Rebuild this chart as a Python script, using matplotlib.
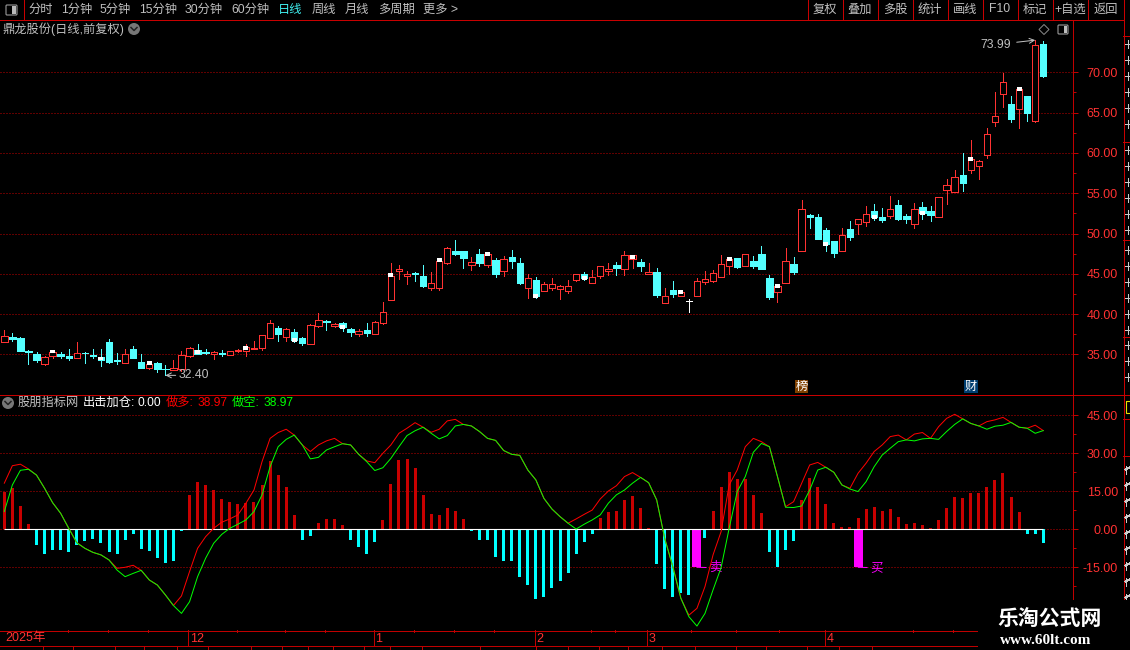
import matplotlib
matplotlib.use('Agg')
import matplotlib.pyplot as plt
from matplotlib.patches import Circle, Rectangle, FancyBboxPatch, Polygon
from matplotlib.lines import Line2D
from matplotlib.transforms import Affine2D
import numpy as np

plt.rcParams['font.family'] = ['Liberation Sans', 'Noto Sans CJK SC']

opens = [36.50,37.16,37.04,35.46,35.05,33.85,34.76,35.09,34.80,34.60,35.22,34.97,34.64,36.54,34.31,33.98,35.67,34.06,33.36,33.93,
         33.23,33.11,33.23,34.76,35.51,35.30,35.01,35.18,34.97,35.38,35.46,35.67,35.83,37.07,38.27,37.20,37.78,37.03,36.33,38.56,
         39.10,38.52,38.85,38.15,37.57,38.02,37.53,38.89,41.79,45.38,44.76,45.05,44.72,43.27,43.27,46.38,47.82,47.82,46.13,47.45,
         46.09,46.71,45.38,47.08,46.34,43.27,44.23,42.86,43.23,43.07,42.90,44.27,44.97,43.90,44.76,45.34,46.09,45.63,46.83,46.46,
         44.97,45.22,41.41,42.99,42.28,41.64,42.28,44.02,44.14,44.64,46.00,46.96,46.00,46.59,47.45,44.48,42.78,43.90,46.21,47.87,
         52.29,52.05,50.43,49.07,47.87,50.56,51.22,51.47,52.79,52.05,52.17,53.53,52.17,51.22,53.29,52.79,52.09,55.44,55.19,57.26,
         57.92,58.41,59.74,63.87,67.27,66.02,65.40,67.06,63.92,73.51]
closes = [37.24,36.95,35.46,35.34,34.35,34.64,35.26,34.84,34.55,35.13,35.13,34.84,34.27,34.10,34.18,35.01,34.60,33.36,33.77,33.19,
          33.15,33.27,34.89,35.75,35.09,35.18,35.26,35.09,35.38,35.55,35.96,35.79,37.36,38.85,37.53,38.11,36.78,36.41,38.60,39.22,
          39.02,38.73,38.40,37.78,37.86,37.65,38.98,40.22,44.76,45.59,44.97,44.93,43.48,43.81,46.62,48.16,47.45,46.96,46.42,46.34,
          47.45,44.97,46.79,46.58,43.85,44.43,42.24,43.69,43.69,43.44,43.44,44.93,44.47,44.56,45.92,45.55,45.72,47.29,47.29,45.96,
          45.22,42.38,42.20,42.49,42.74,41.64,44.10,44.31,45.05,46.17,46.79,45.84,47.41,45.97,45.59,42.12,43.44,46.59,45.22,53.00,
          52.05,49.32,48.69,47.58,49.81,49.56,51.76,52.38,52.05,51.67,53.00,51.80,51.80,53.00,52.54,52.29,54.49,55.97,56.97,56.26,
          59.20,58.95,62.30,64.62,68.75,64.25,67.89,65.00,73.34,69.54]
highs = [38.03,37.62,37.16,35.55,35.30,34.80,35.50,35.30,35.67,36.54,35.26,35.67,35.67,36.91,35.13,35.67,36.00,35.05,34.22,34.06,
         33.64,34.31,35.42,35.92,36.29,35.67,35.42,35.51,35.46,35.63,36.25,36.66,37.40,39.27,38.52,38.27,38.15,37.16,38.77,40.13,
         39.27,38.89,39.02,38.27,38.15,38.89,39.14,41.50,46.34,46.09,45.30,45.18,46.09,45.22,46.96,48.32,49.19,47.82,47.08,48.07,
         47.70,46.96,47.20,47.95,46.96,44.97,44.60,43.98,44.47,43.56,44.23,44.93,45.22,45.47,45.92,46.34,46.46,47.82,47.29,46.83,
         46.34,45.72,43.23,44.10,42.99,41.87,44.47,45.34,45.47,47.33,47.08,46.96,47.41,47.21,48.45,44.85,43.73,48.20,47.08,54.15,
         52.42,52.42,50.68,49.07,50.68,51.55,51.76,53.41,53.66,53.16,54.65,54.15,52.42,53.78,53.91,53.41,54.49,56.72,57.84,59.99,
         61.60,59.12,63.09,67.51,69.91,67.06,68.13,67.06,73.99,73.90]
lows = [36.50,36.71,35.46,33.85,34.10,33.69,34.60,34.60,34.35,34.60,33.98,34.60,33.60,33.98,33.85,33.98,34.60,33.36,33.19,32.86,
        32.40,33.11,32.98,34.64,35.09,35.01,34.43,34.76,34.93,35.26,34.84,35.67,35.54,37.07,36.66,36.66,36.54,36.16,36.33,38.40,
        38.02,38.40,37.90,37.28,37.28,37.28,37.53,38.77,41.79,44.35,43.73,44.10,43.36,43.03,43.03,46.21,47.33,45.72,45.47,46.00,
        45.84,44.60,44.72,45.72,43.73,41.99,41.99,42.86,42.99,41.87,42.61,44.14,44.23,43.85,44.47,44.85,44.85,44.85,45.72,45.34,
        44.97,42.14,41.41,42.14,42.28,40.26,42.28,43.73,43.98,44.64,44.97,45.72,46.00,45.72,45.59,41.87,41.50,43.90,44.97,47.87,
        50.68,49.32,47.83,47.08,47.87,49.19,49.94,50.93,51.67,51.42,51.92,51.67,51.30,50.68,51.80,51.55,52.09,53.66,55.19,55.27,
        57.50,56.76,59.37,63.38,65.73,63.87,63.13,64.00,63.79,69.46]

# white marks sitting on every sixth candle
mark_idx = [6,12,18,24,30,36,42,48,54,60,66,72,78,84,90,96,102,108,114,120,126]
mark_top = [35.51,34.64,34.14,35.54,36.00,37.03,38.65,45.09,46.96,47.70,42.49,44.72,47.29,42.99,47.08,43.73,48.94,52.29,52.79,59.49,68.13]
mark_bot = [35.13,34.27,33.73,35.05,35.55,36.54,38.15,44.64,46.50,47.25,41.99,44.23,46.83,42.49,46.59,43.24,48.45,51.80,52.29,58.99,67.68]

hist = [14.9,16.3,9.2,2.1,-6.2,-9.6,-8.2,-8.2,-8.8,-6.2,-4.6,-3.8,-5.4,-8.9,-9.7,-4.2,-1.8,-7.8,-8.6,-11.3,
        -13.3,-12.5,-0.5,13.6,18.7,17.5,15.5,12.0,10.8,10.0,10.4,10.8,17.5,27.0,21.4,16.7,5.7,-4.2,-2.6,2.5,
        4.1,4.1,1.7,-4.2,-7.0,-9.7,-5.0,3.7,17.9,27.4,27.8,24.2,13.6,6.1,5.7,8.4,7.2,4.1,-0.6,-4.2,
        -4.2,-10.9,-12.5,-12.5,-18.8,-22.0,-27.5,-26.7,-23.2,-20.4,-17.2,-9.7,-5.0,-1.8,4.5,6.8,7.2,11.6,13.2,8.4,
        0.5,-13.7,-23.6,-26.7,-25.1,-25.9,0.0,-3.4,7.2,16.7,22.6,19.9,19.9,13.6,6.4,-8.9,-14.9,-8.2,-4.6,11.6,
        20.3,16.7,10.0,2.5,0.9,0.9,4.5,8.0,8.8,7.2,8.0,4.9,2.1,2.5,1.7,0.5,3.7,8.4,12.8,12.4,
        14.3,14.3,16.7,19.5,22.2,12.8,6.8,-1.8,-1.8,-5.4]

zuokong = [7.0,17.5,23.3,23.7,21.4,16.2,10.5,6.3,0.4,-5.3,-7.5,-9.1,-10.1,-12.1,-16.1,-18.7,-17.4,-16.2,-20.0,-22.0,
           -25.9,-30.1,-33.2,-28.6,-18.7,-11.4,-5.5,-2.0,0.4,2.0,3.7,7.0,13.6,24.7,32.6,35.5,37.2,33.3,27.8,28.4,
           31.3,32.6,33.8,33.3,29.6,26.7,23.2,24.3,28.0,32.6,37.0,38.9,40.3,37.9,35.7,37.0,40.8,41.4,40.8,38.6,
           35.9,35.1,31.1,29.6,29.2,23.4,19.5,12.2,8.0,5.0,2.4,0.1,2.0,3.7,5.7,10.3,13.6,15.5,18.2,20.5,
           18.4,11.6,-3.6,-14.7,-27.2,-34.5,-38.2,-33.2,-23.9,-15.1,0.4,14.9,20.8,30.4,33.9,32.6,20.8,8.7,8.6,9.2,
           15.5,23.4,24.5,22.5,17.5,15.9,14.9,18.8,24.7,29.3,32.0,34.6,35.3,34.9,35.7,35.9,35.5,38.6,41.4,43.6,
           41.8,40.8,39.5,40.7,41.1,42.2,40.3,39.9,37.9,38.97]
zuoduo = [18.2,25.1,25.7,23.8,21.4,16.2,10.5,6.3,0.4,-5.3,-7.5,-9.1,-10.1,-12.1,-15.4,-15.0,-14.2,-16.2,-20.0,-22.0,
          -25.9,-30.1,-26.3,-16.7,-7.5,-2.9,0.4,2.8,4.1,5.7,10.3,15.5,26.7,35.9,38.2,39.5,37.2,33.3,30.7,33.3,
          34.9,35.9,33.8,33.3,29.6,27.0,26.3,30.0,33.3,37.9,39.9,42.1,40.3,38.3,39.5,42.8,43.4,41.4,40.8,38.6,
          35.9,35.1,31.1,29.6,29.2,23.4,19.5,12.2,8.0,5.0,2.4,4.1,5.9,7.6,12.0,15.1,17.2,20.8,22.4,20.5,
          18.4,11.6,-3.6,-14.7,-27.2,-33.9,-31.2,-22.6,-10.1,-0.9,17.5,23.4,32.6,35.9,34.6,32.6,20.8,8.9,10.9,18.2,
          25.4,26.4,24.5,22.5,17.5,16.2,22.1,26.1,30.7,33.3,36.6,37.2,35.3,37.6,38.2,35.9,40.5,43.8,45.4,43.6,
          41.8,40.8,42.5,43.2,44.2,42.2,40.3,39.9,41.1,38.97]

signal_idx = [86, 106]
signal_val = [-15.0, -15.0]
signal_txt = ['卖', '买']

price_ticks = [35, 40, 45, 50, 55, 60, 65, 70]
price_minor = [37.5, 42.5, 47.5, 52.5, 57.5, 62.5, 67.5]
macd_ticks = [-15, 0, 15, 30, 45]
macd_minor = [-22.5, -7.5, 7.5, 22.5, 37.5]

month_idx = [23, 46, 66, 80, 102]
month_txt = ['12', '1', '2', '3', '4']
date_minor = [8, 13, 18, 29, 35, 40, 51, 56, 61, 73, 76, 85.4, 91, 96.4, 113, 118]
date_lower = [4.8, 8.5, 13.8, 17.4, 21.4, 25.3, 30.6, 34.5, 37.7, 40.8, 44.7, 47.9, 51.9, 59.1, 66, 70, 73.9, 77.4, 81.7, 85.8,
              90.8, 94.6, 99.7, 103.6, 107.7]

left_tabs = ['分时', '1分钟', '5分钟', '15分钟', '30分钟', '60分钟', '日线', '周线', '月线', '多周期', '更多 >']
left_tab_x = [28, 61, 100, 139, 185, 231, 278, 312, 345, 378, 423]
right_tabs = ['复权', '叠加', '多股', '统计', '画线', 'F10', '标记', '+自选', '返回']
right_tab_sep = [807, 842, 877, 912, 947, 982, 1017, 1052, 1087, 1123]

W, H = 1130, 650
RED = '#ff3232'
LINE = '#c00000'
GRID = '#c00000'
GREY = '#c0c0c0'
CYAN = '#54ffff'

fig = plt.figure(figsize=(W / 100, H / 100), dpi=100, facecolor='black')
px = Affine2D().scale(1, -1).translate(0, H)


def rect(x0, y0, x1, y1):
    return [x0 / W, 1 - y1 / H, (x1 - x0) / W, (y1 - y0) / H]


STEP = 8.054
XMIN, XMAX = -4.3 / STEP, (1073 - 4.3) / STEP

ax1 = fig.add_axes(rect(0, 20, 1073, 394), facecolor='black')
ax2 = fig.add_axes(rect(0, 395, 1073, 630), facecolor='black')
ax3 = fig.add_axes(rect(0, 630, 1073, 650), facecolor='black')

for ax, ticks, minor in [(ax1, price_ticks, price_minor), (ax2, macd_ticks, macd_minor)]:
    ax.set_xlim(XMIN, XMAX)
    ax.set_xticks([])
    for s in ['left', 'top', 'bottom']:
        ax.spines[s].set_visible(False)
    ax.spines['right'].set_color(LINE)
    ax.spines['right'].set_linewidth(0.72)
    ax.yaxis.tick_right()
    ax.set_yticks(ticks)
    ax.set_yticks(minor, minor=True)
    ax.set_yticklabels(['%.2f' % t for t in ticks])
    ax.tick_params(axis='y', which='major', length=3.6, width=0.72, color=LINE, labelcolor=RED, labelsize=9, pad=28.8)
    ax.tick_params(axis='y', which='minor', length=1.8, width=0.72, color=LINE)
    for lab in ax.get_yticklabels():
        lab.set_ha('right')
    ax.grid(axis='y', which='major', color=GRID, linewidth=0.72, linestyle=(0, (1, 2)))
    ax.set_axisbelow(True)

ax1.set_ylim(70 - (394 - 72.3) / 8.06, 70 + (72.3 - 20) / 8.06)
ax2.set_ylim((529.3 - 630) / 2.533, (529.3 - 395) / 2.533)

# candles
idx = np.arange(len(opens))
o = np.array(opens)
c = np.array(closes)
h = np.array(highs)
l = np.array(lows)
up = c > o
down = c < o
flat = c == o
cw = 6.4 / STEP

ax1.vlines(idx[up], l[up], h[up], color=RED, linewidth=0.72, antialiased=False, zorder=3)
ax1.bar(idx[up], (c - o)[up], bottom=o[up], width=cw, facecolor='black', edgecolor=RED, linewidth=0.72,
        antialiased=False, zorder=4)
ax1.vlines(idx[down], l[down], h[down], color=CYAN, linewidth=0.72, antialiased=False, zorder=3)
ax1.bar(idx[down], (c - o)[down], bottom=o[down], width=cw, facecolor=CYAN, edgecolor=CYAN, linewidth=0.72,
        antialiased=False, zorder=4)
ax1.vlines(idx[flat], l[flat], h[flat], color='white', linewidth=0.72, antialiased=False, zorder=3)
ax1.hlines(o[flat], idx[flat] - cw / 2, idx[flat] + cw / 2, color='white', linewidth=0.72, antialiased=False, zorder=4)
mt = np.array(mark_top)
mb = np.array(mark_bot)
ax1.bar(mark_idx, mt - mb, bottom=mb, width=5 / STEP, color='white', linewidth=0, zorder=5)

ax1.annotate('73.99', xy=(128, highs[128]), xytext=(-17.3, -3.2), textcoords='offset points',
             ha='right', va='center', color=GREY, fontsize=8.8, zorder=7,
             arrowprops=dict(arrowstyle='->', color=GREY, lw=0.72, shrinkA=2, shrinkB=0))
ax1.annotate('32.40', xy=(20, lows[20]), xytext=(9.4, 0), textcoords='offset points',
             ha='left', va='center', color=GREY, fontsize=8.8, zorder=7,
             arrowprops=dict(arrowstyle='->', color=GREY, lw=0.72, shrinkA=0, shrinkB=0))

# event badges along the price panel floor
trans = ax1.get_xaxis_transform()
ax1.text(99, 0.004, '榜', transform=trans, color='white', fontsize=8.8, ha='center', va='bottom', zorder=7,
         bbox=dict(boxstyle='square,pad=0.05', facecolor='#804000', edgecolor='none'))
ax1.text(120, 0.004, '财', transform=trans, color='white', fontsize=8.8, ha='center', va='bottom', zorder=7,
         bbox=dict(boxstyle='square,pad=0.05', facecolor='#003e70', edgecolor='none'))

# indicator panel
hv = np.array(hist)
pos = hv > 0
neg = hv < 0
ax2.bar(idx[pos], hv[pos], width=3 / STEP, color='#c80000', linewidth=0, zorder=3)
ax2.bar(idx[neg], hv[neg], width=3 / STEP, color='#00ffff', linewidth=0, zorder=3)
ax2.bar(signal_idx, signal_val, width=9 / STEP, color='#ff00ff', linewidth=0, zorder=3)
ax2.plot(idx, np.zeros(len(idx)), color='white', linewidth=0.8, zorder=4, solid_capstyle='butt')
ax2.plot(idx, zuoduo, color='#ff0000', linewidth=0.72, zorder=5)
ax2.plot(idx, zuokong, color='#00ff00', linewidth=0.72, zorder=6)
for i, v, s in zip(signal_idx, signal_val, signal_txt):
    ax2.annotate(s, xy=(i, v), xytext=(8.6, -0.3), textcoords='offset points', ha='left', va='center',
                 color='#ff00ff', fontsize=9, zorder=5,
                 arrowprops=dict(arrowstyle='-', color='#ff00ff', lw=0.72, shrinkA=0, shrinkB=0))

# date band
ax3.set_xlim(XMIN, XMAX)
ax3.set_ylim(20, 0)
ax3.axis('off')
ax3.hlines([0.5, 16], XMIN, (978 - 4.3) / STEP, color=LINE, linewidth=0.72, antialiased=False)
sep = np.array(month_idx) - 0.15
ax3.vlines(sep, 0, 16, color=LINE, linewidth=0.72, antialiased=False)
ax3.vlines(np.array(date_minor) - 0.15, 0, 2, color=LINE, linewidth=0.72, antialiased=False)
ax3.vlines(date_lower, 16, 20, color=LINE, linewidth=0.72, antialiased=False)
for i, s in zip(sep, month_txt):
    ax3.text(i + 0.2, 8.5, s, color=RED, fontsize=9, ha='left', va='center')
ax3.text(XMIN + 0.6, 8.5, '2025年', color=RED, fontsize=9, ha='left', va='center')


def line(x0, y0, x1, y1, color='#c80000', lw=0.72, z=2):
    fig.add_artist(Line2D([x0, x1], [y0, y1], transform=px, color=color, linewidth=lw, zorder=z,
                          solid_capstyle='butt', antialiased=False))


def label(x, y, s, color=GREY, size=8.64, ha='left', **kw):
    fig.text(x, y, s, transform=px, color=color, fontsize=size, ha=ha, va='center', zorder=20, **kw)


def chevron_icon(x, y):
    fig.add_artist(Circle((x, y), 6, transform=px, facecolor='#777777', edgecolor='none', zorder=15))
    fig.add_artist(Line2D([x - 3, x, x + 3], [y - 1.5, y + 1.5, y - 1.5], transform=px, color='#222222',
                          linewidth=1.1, zorder=16))


def panel_icon(x0, y0, x1, y1):
    fig.add_artist(FancyBboxPatch((x0 + 1, y0 + 1), x1 - x0 - 2, y1 - y0 - 2, boxstyle='round,pad=1', transform=px,
                                  facecolor='black', edgecolor='#999999', linewidth=0.8, zorder=15))
    fig.add_artist(Rectangle(((x0 + x1) / 2 + 0.5, y0 + 1), (x1 - x0) / 2 - 1.5, y1 - y0 - 2, transform=px,
                             facecolor='#bbbbbb', edgecolor='none', zorder=16))


# toolbar
line(0, 19.5, 1123, 19.5)
line(23.5, 0, 23.5, 19.5)
panel_icon(6, 5, 17, 15)
for x, s in zip(left_tab_x, left_tabs):
    label(x, 9.5, s, color='#40f0f0' if s == '日线' else GREY, size=8.8)
for x in right_tab_sep:
    line(x + 0.5, 0, x + 0.5, 19.5)
for a, b, s in zip(right_tab_sep[:-1], right_tab_sep[1:], right_tabs):
    label((a + b) / 2 + 0.5, 9.5, s, ha='center', size=8.8)

label(2, 29, '鼎龙股份(日线,前复权)', size=8.8)
chevron_icon(134, 29)
fig.add_artist(Polygon([(1044, 24.5), (1049, 29.5), (1044, 34.5), (1039, 29.5)], closed=True, transform=px,
                       facecolor='none', edgecolor='#888888', linewidth=0.72, zorder=15))
panel_icon(1058, 25, 1068, 34)

line(0, 394.5, 1123, 394.5)
chevron_icon(8, 403)
label(18, 403, '股朋指标网', size=8.8)
label(83, 403, '出击加仓:', color='white', size=8.8)
label(138, 403, '0.00', color='white', size=8.64)
label(166, 403, '做多:', color='#ff0000', size=8.8)
label(197, 403, '38.97', color='#ff0000', size=8.64)
label(232, 403, '做空:', color='#00ff00', size=8.8)
label(263, 403, '38.97', color='#00ff00', size=8.64)

# right border and cropped side column
line(1123.5, 0, 1123.5, 600)
for y in [36, 141.5, 239.5, 336.5, 395, 419, 456]:
    line(1123, y, 1130, y)
# the neighbouring panel is cut by the picture edge: only glyph stubs remain
stub_rows = list(range(44, 140, 16)) + list(range(150, 236, 16)) + list(range(250, 332, 16)) + list(range(345, 392, 16))
for y in stub_rows:
    line(1125, y, 1130, y, color='#cccccc')
    line(1127.5, y - 4, 1127.5, y + 4, color='#cccccc')
for y in range(470, 600, 16):
    line(1125, y, 1130, y - 3, color='#cccccc')
    line(1125.5, y - 4, 1125.5, y + 4, color='#cccccc')
fig.add_artist(Rectangle((1125.5, 401), 6, 12, transform=px, facecolor='none', edgecolor='#e8e000', linewidth=0.8, zorder=5))

# watermark block
fig.add_artist(Rectangle((978, 600), 152, 50, transform=px, facecolor='black', edgecolor='none', zorder=10))
fig.text(1050, 619, '乐淘公式网', transform=px, color='white', fontsize=15, fontweight='bold', ha='center', va='center', zorder=20)
fig.text(1046, 640, 'www.60lt.com', transform=px, color='white', fontsize=11, fontweight='bold', family='Liberation Serif',
         ha='center', va='center', zorder=20)

fig.savefig('out.png', dpi=100, facecolor='black')
